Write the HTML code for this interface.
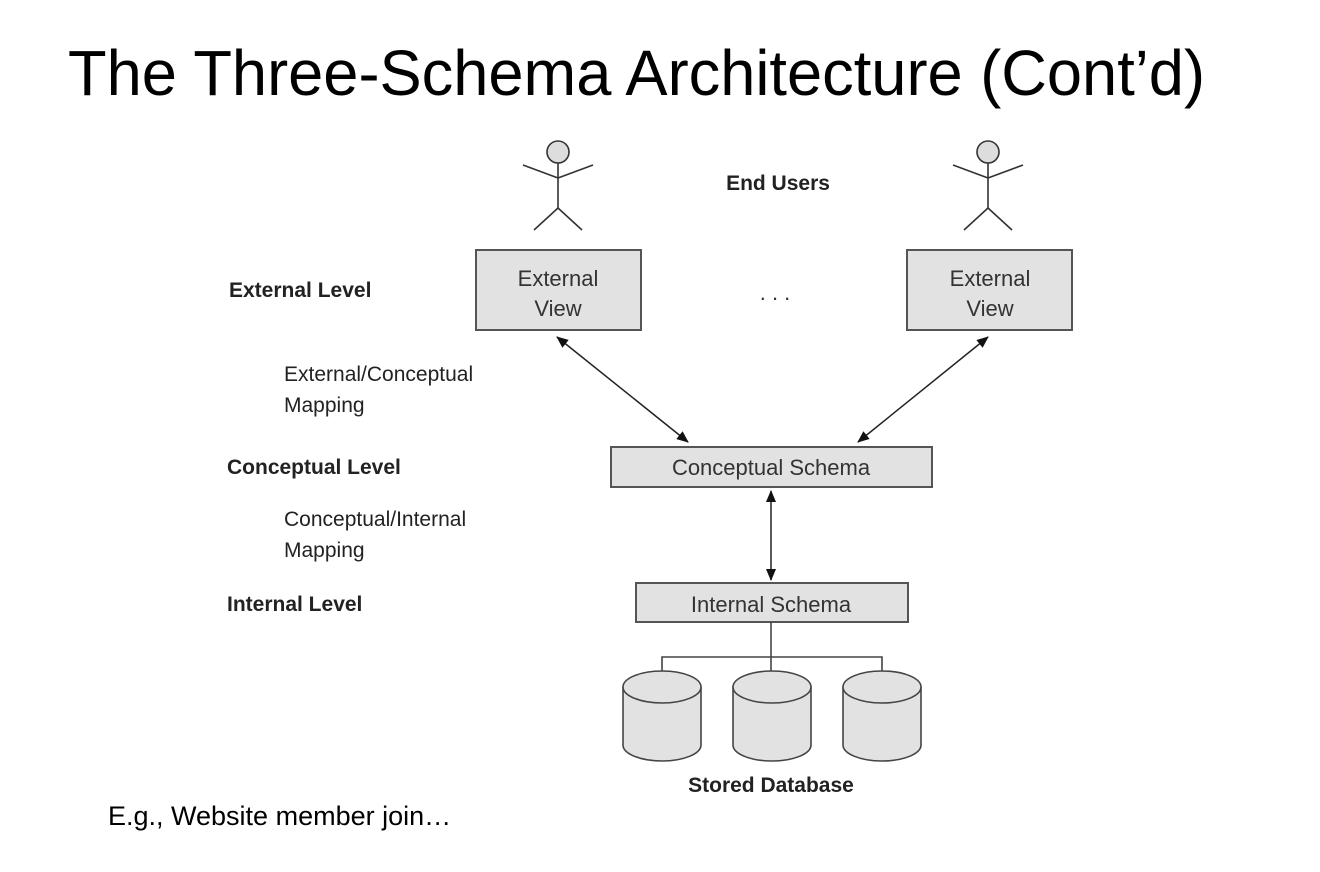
<!DOCTYPE html>
<html><head><meta charset="utf-8"><style>
html,body{margin:0;padding:0;background:#fff;}
svg{display:block;}
</style></head><body>
<svg width="1320" height="872" viewBox="0 0 1320 872" xmlns="http://www.w3.org/2000/svg" font-family="'Liberation Sans', Arial, sans-serif">
<defs>
<marker id="ah" markerWidth="12" markerHeight="10" refX="11" refY="5" orient="auto-start-reverse" markerUnits="userSpaceOnUse">
<path d="M0,0 L12,5 L0,10 z" fill="#111"/>
</marker>
</defs>
<text x="68" y="95" font-size="64" textLength="1137" lengthAdjust="spacingAndGlyphs" fill="#000">The Three-Schema Architecture (Cont’d)</text>

<g stroke="#333" stroke-width="1.6" fill="none">
<circle cx="558" cy="152" r="11" fill="#ddd"/>
<line x1="558" y1="163" x2="558" y2="208"/>
<line x1="523" y1="165" x2="558" y2="178"/>
<line x1="593" y1="165" x2="558" y2="178"/>
<line x1="558" y1="208" x2="534" y2="230"/>
<line x1="558" y1="208" x2="582" y2="230"/>
<circle cx="988" cy="152" r="11" fill="#ddd"/>
<line x1="988" y1="163" x2="988" y2="208"/>
<line x1="953" y1="165" x2="988" y2="178"/>
<line x1="1023" y1="165" x2="988" y2="178"/>
<line x1="988" y1="208" x2="964" y2="230"/>
<line x1="988" y1="208" x2="1012" y2="230"/>
</g>
<text x="778" y="190" font-size="21" font-weight="bold" text-anchor="middle" fill="#222">End Users</text>

<g fill="#e2e2e2" stroke="#555" stroke-width="2">
<rect x="476" y="250" width="165" height="80"/>
<rect x="907" y="250" width="165" height="80"/>
<rect x="611" y="447" width="321" height="40"/>
<rect x="636" y="583" width="272" height="39"/>
</g>
<g font-size="22" fill="#333" text-anchor="middle">
<text x="558" y="286">External</text>
<text x="558" y="316">View</text>
<text x="990" y="286">External</text>
<text x="990" y="316">View</text>
<text x="771" y="475">Conceptual Schema</text>
<text x="771" y="612">Internal Schema</text>
<text x="775" y="300">. . .</text>
</g>

<g font-size="21" fill="#222">
<text x="229" y="297" font-weight="bold">External Level</text>
<text x="284" y="381">External/Conceptual</text>
<text x="284" y="412">Mapping</text>
<text x="227" y="474" font-weight="bold">Conceptual Level</text>
<text x="284" y="526">Conceptual/Internal</text>
<text x="284" y="557">Mapping</text>
<text x="227" y="611" font-weight="bold">Internal Level</text>
</g>

<g stroke="#222" stroke-width="1.5" marker-start="url(#ah)" marker-end="url(#ah)">
<line x1="557" y1="337" x2="688" y2="442"/>
<line x1="988" y1="337" x2="858" y2="442"/>
<line x1="771" y1="491" x2="771" y2="580"/>
</g>

<g stroke="#444" stroke-width="1.6" fill="none">
<line x1="771" y1="622" x2="771" y2="672"/>
<polyline points="662,672 662,657 882,657 882,672"/>
</g>
<g stroke="#444" stroke-width="1.6" fill="#e2e2e2">
<path d="M623,687 L623,745 A39,16 0 0 0 701,745 L701,687"/>
<ellipse cx="662" cy="687" rx="39" ry="16"/>
<path d="M733,687 L733,745 A39,16 0 0 0 811,745 L811,687"/>
<ellipse cx="772" cy="687" rx="39" ry="16"/>
<path d="M843,687 L843,745 A39,16 0 0 0 921,745 L921,687"/>
<ellipse cx="882" cy="687" rx="39" ry="16"/>
</g>
<text x="771" y="792" font-size="21" font-weight="bold" text-anchor="middle" fill="#222">Stored Database</text>

<text x="108" y="825" font-size="27" fill="#000">E.g., Website member join…</text>
</svg>
</body></html>
